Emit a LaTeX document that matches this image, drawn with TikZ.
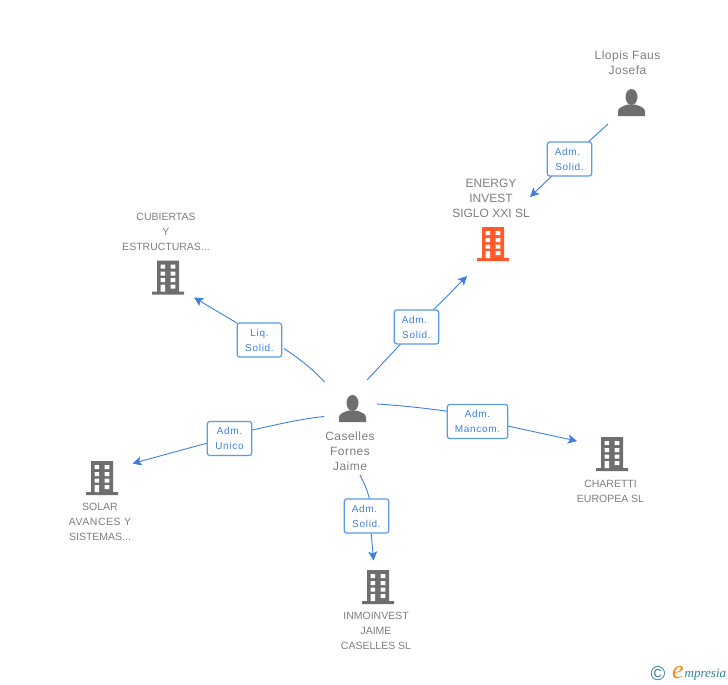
\documentclass[tikz,border=0pt]{standalone}
\usepackage{fontspec}
\setmainfont{Liberation Sans}
\newfontfamily\spaced[LetterSpace=4]{Liberation Sans}
\newfontfamily\tagfont[LetterSpace=7]{Liberation Sans}
\newfontfamily\logofont{Liberation Serif}
\usetikzlibrary{arrows.meta}
\definecolor{linkblue}{HTML}{3D80E0}
\definecolor{boxblue}{HTML}{5A9BE8}
\definecolor{icongrey}{HTML}{6E6E6E}
\definecolor{textgrey}{HTML}{7E7E7E}
\definecolor{hotorange}{HTML}{FF5A2B}
\definecolor{logoteal}{HTML}{2F7F9A}
\definecolor{logoorange}{HTML}{F28A1E}
\newcommand{\admline}{Adm.\hspace*{4pt}}
\tikzset{
  x=1pt,y=-1pt,
  link/.style={draw=linkblue,line width=0.9pt},
  tiplink/.style={link,-{Stealth[length=9pt,width=9pt,inset=2pt]}},
  tag/.style={draw=boxblue,line width=1.2pt,rounded corners=2.5pt,fill=white,text=linkblue,
    minimum height=34pt,inner sep=0pt,align=center,
    font=\tagfont\fontsize{10}{15}\selectfont},
  cap12/.style={text=textgrey,align=center,inner sep=0pt,font=\fontsize{12}{15}\selectfont},
  cap11/.style={text=textgrey,align=center,inner sep=0pt,font=\fontsize{10.5}{15}\selectfont},
  iconnode/.style={inner sep=0pt,minimum width=32pt,minimum height=34pt},
  pics/building/.style={code={
    \fill[#1] (-11,-17) rectangle (11,14) (-16,14) rectangle (16,17);
    \fill[white] (-7.5,-13) rectangle (-3,-9) (2.7,-13) rectangle (7.3,-9)
      (-7.5,-6) rectangle (-3,-2) (2.7,-6) rectangle (7.3,-2)
      (-7.5,0.5) rectangle (-3,4.7) (2.7,0.5) rectangle (7.3,4.7)
      (-7.5,7) rectangle (-3,14) (2.7,7) rectangle (7.3,11);
  }},
  pics/person/.style={code={
    \fill[icongrey] (0,-5.5) ellipse (6 and 8);
    \fill[icongrey] (-13.5,13.5) -- (-13.5,9) .. controls (-13.5,5) and (-9,4) .. (-4,2)
      -- (4,2) .. controls (9,4) and (13.5,5) .. (13.5,9) -- (13.5,13.5) -- cycle;
  }}
}
\begin{document}
\begin{tikzpicture}
\useasboundingbox (0,0) rectangle (728,685);
% icons
\node[iconnode] (llopis) at (631.5,102.5) {}; \pic at (llopis.center) {person};
\node[iconnode] (caselles) at (352.5,408.5) {}; \pic at (caselles.center) {person};
\node[iconnode] (energy) at (493,244) {}; \pic at (energy.center) {building=hotorange};
\node[iconnode] (cubiertas) at (168,277.5) {}; \pic at (cubiertas.center) {building=icongrey};
\node[iconnode] (charetti) at (612,454) {}; \pic at (charetti.center) {building=icongrey};
\node[iconnode] (solar) at (102,478) {}; \pic at (solar.center) {building=icongrey};
\node[iconnode] (inmo) at (378,587) {}; \pic at (inmo.center) {building=icongrey};
% captions
\node[cap12,font=\spaced\fontsize{12}{15}\selectfont] (t1) at (627.5,62.7) {Llopis Faus\\Josefa};
\node[cap12] (t2) at (491,198) {ENERGY\\INVEST\\SIGLO XXI SL};
\node[cap11] (t3) at (166,231.5) {CUBIERTAS\\Y\\ESTRUCTURAS...};
\node[cap12,font=\spaced\fontsize{12}{15}\selectfont] (t4) at (350,451) {Caselles\\Fornes\\Jaime};
\node[cap11] (t5) at (610.5,491) {CHARETTI\\EUROPEA SL};
\node[cap11] (t6) at (100,522) {SOLAR\\{\addfontfeature{LetterSpace=5}AVANCES Y}\\SISTEMAS...};
\node[cap11] (t7) at (376,631) {INMOINVEST\\JAIME\\CASELLES SL};
% free ends
\coordinate (a1) at (608,124);
\coordinate (h1) at (530,197);
\coordinate (a2) at (367,380);
\coordinate (h2) at (467,276);
\coordinate (a3) at (324.5,382);
\coordinate (h3) at (194,297.5);
\coordinate (a4) at (324,416.5);
\coordinate (h4) at (132.5,463.5);
\coordinate (a5) at (377,404);
\coordinate (h5) at (577,441);
\coordinate (a6) at (360,475);
\coordinate (h6) at (373.5,560.5);
% tag positions
\coordinate (p1) at (569.5,159);
\coordinate (p2) at (416.5,327);
\coordinate (p3) at (259.5,340);
\coordinate (p4) at (229.5,438.5);
\coordinate (p5) at (477.5,421.5);
\coordinate (p6) at (366.5,516);
% hidden line ends behind the tags
\coordinate (i3) at (284,348.5);
\coordinate (o3) at (259.5,336.5);
\coordinate (i4) at (250,430.5);
\coordinate (o4) at (229.5,437);
\coordinate (i5) at (449,411.5);
\coordinate (o5) at (477.5,419.5);
\coordinate (i6) at (369.7,501);
\coordinate (o6) at (369.8,516);
% connectors
\draw[link] (a1) -- (p1);
\draw[tiplink] (p1) -- (h1);
\draw[link] (a2) -- (p2);
\draw[tiplink] (p2) -- (h2);
\draw[link] (a3) .. controls (312,368) and (298,358) .. (i3);
\draw[tiplink] (o3) -- (h3);
\draw[link] (a4) .. controls (300,419) and (275,425) .. (i4);
\draw[tiplink] (o4) -- (h4);
\draw[link] (a5) .. controls (400,405.5) and (425,408) .. (i5);
\draw[tiplink] (o5) -- (h5);
\draw[link] (a6) .. controls (364,483) and (368,491) .. (i6);
\draw[tiplink] (o6) -- (h6);
% tags
\node[tag,minimum width=44.5pt] (b1) at (p1) {\admline\\Solid.};
\node[tag,minimum width=44.5pt] (b2) at (p2) {\admline\\Solid.};
\node[tag,minimum width=44.5pt] (b3) at (p3) {Liq.\\Solid.};
\node[tag,minimum width=44.5pt] (b4) at (p4) {Adm.\\Unico};
\node[tag,minimum width=60.5pt] (b5) at (p5) {Adm.\\Mancom.};
\node[tag,minimum width=44.5pt] (b6) at (p6) {\admline\\Solid.};
% logo
\node[text=logoteal,inner sep=0pt,font=\fontsize{20}{20}\selectfont] (lc) at (658,674) {©};
\node[text=logoorange,inner sep=0pt,font=\logofont\itshape\fontsize{26}{26}\selectfont] (le) at (678,672) {e};
\node[text=logoteal,inner sep=0pt,anchor=west,font=\logofont\itshape\fontsize{13}{14}\selectfont] (lm) at (684.5,675) {mpresia};
\end{tikzpicture}
\end{document}
